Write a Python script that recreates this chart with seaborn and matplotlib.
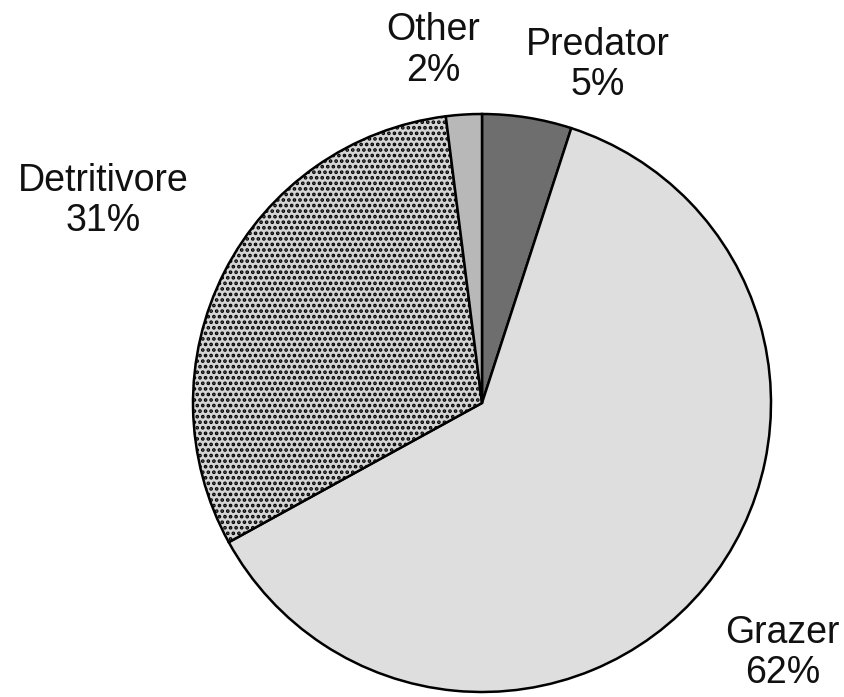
import matplotlib
matplotlib.use('Agg')
import matplotlib.pyplot as plt
import seaborn as sns

# Feeding groups, clockwise from 12 o'clock
groups = ['Predator', 'Grazer', 'Detritivore', 'Other']
shares = [5, 62, 31, 2]
fills = ['#6e6e6e', '#dedede', '#d4d4d4', '#b8b8b8']
hatches = ['', '', '...', '']

# label anchors in pie units (radius = 1)
label_xy = [(0.40, 1.17), (1.04, -0.865), (-1.31, 0.70), (-0.17, 1.22)]

sns.set_theme(style='white')
plt.rcParams['font.family'] = ['Liberation Sans', 'DejaVu Sans']
plt.rcParams['hatch.linewidth'] = 1.8

fig = plt.figure(figsize=(8.45, 6.97), dpi=100)
ax = fig.add_axes([0, 0, 1, 1])

wedges, _ = ax.pie(shares, colors=fills, startangle=90, counterclock=False,
                   radius=1.0, center=(0, 0),
                   wedgeprops=dict(edgecolor='black', linewidth=1.8))
for w, h in zip(wedges, hatches):
    if h:
        w.set_hatch(h)

for name, val, (x, y) in zip(groups, shares, label_xy):
    ax.text(x, y, f'{name}\n{val}%', ha='center', va='center',
            fontsize=27, linespacing=1.15, color='#111111')

# pixel-matched limits: centre at (482, 403), radius 289 px
r = 289.0
ax.set_xlim(-482 / r, (845 - 482) / r)
ax.set_ylim(-(697 - 403) / r, 403 / r)
ax.set_aspect('auto')
ax.axis('off')

fig.savefig('out.png', dpi=100, facecolor='white')
plt.close(fig)
